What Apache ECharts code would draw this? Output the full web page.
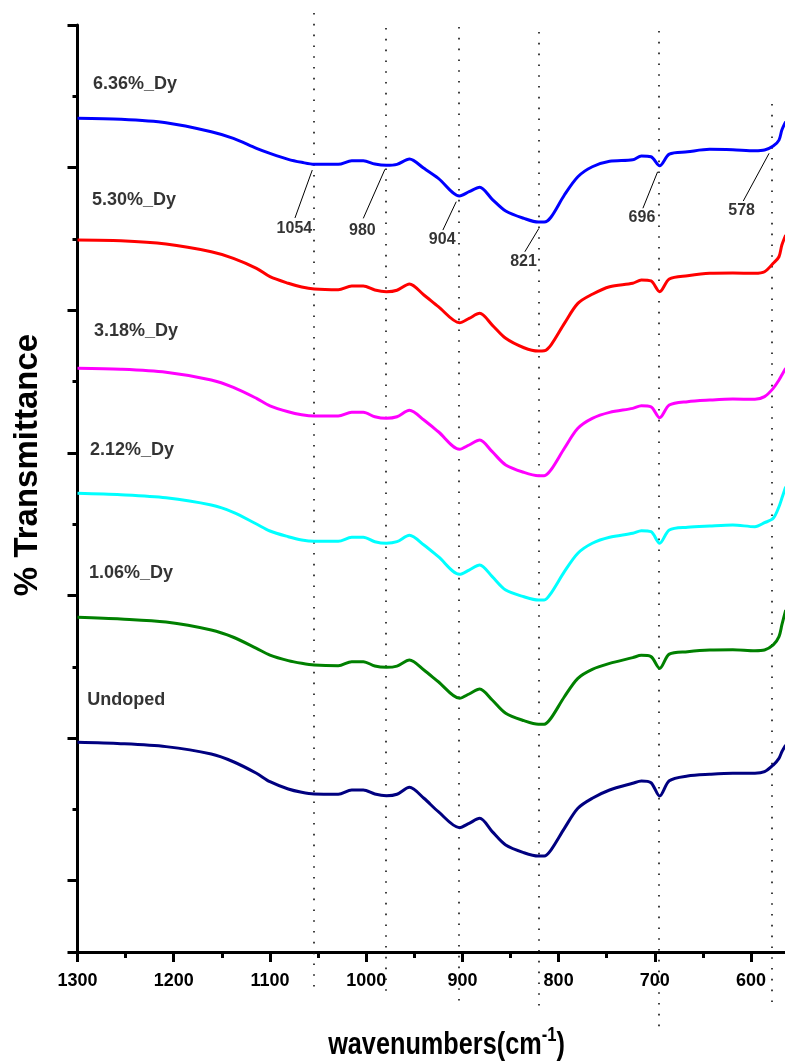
<!DOCTYPE html>
<html>
<head>
<meta charset="utf-8">
<script src="https://cdn.jsdelivr.net/npm/echarts@6/dist/echarts.min.js"></script>
<style>
  html, body { margin: 0; padding: 0; background: #ffffff; }
  #chart { width: 785px; height: 1061px; }
</style>
</head>
<body>
<div id="chart"></div>
<script>
// FTIR spectra of Dy-doped samples, stacked with vertical offsets.
const wavenumbers = [1300, 1255, 1208, 1161, 1138, 1114, 1100, 1081, 1067, 1054,
  1029, 1015, 1003, 991, 979, 968, 955, 940, 925, 903,
  893, 882, 869, 855, 836, 821, 815, 808, 794, 780,
  765, 747, 723, 714, 704, 695, 685, 666, 643, 619,
  596, 586, 577, 571, 568, 564];

const undoped = [14.70, 14.61, 14.40, 13.88, 13.34, 12.53, 11.94, 11.43, 11.20, 11.08,
  11.06, 11.36, 11.36, 11.08, 10.96, 11.06, 11.55, 10.78, 9.84, 8.72,
  9.02, 9.37, 8.44, 7.50, 6.96, 6.73, 6.73, 7.15, 8.67, 10.08,
  10.78, 11.36, 11.83, 11.99, 11.87, 10.94, 12.01, 12.34, 12.46, 12.53,
  12.53, 12.64, 13.11, 13.58, 14.04, 14.51];

const dy106 = [23.47, 23.35, 23.14, 22.58, 22.07, 21.29, 20.82, 20.43, 20.24, 20.12,
  20.07, 20.36, 20.36, 20.05, 19.96, 20.05, 20.47, 19.77, 18.95, 17.79,
  18.09, 18.44, 17.67, 16.74, 16.22, 15.97, 15.97, 16.39, 17.90, 19.19,
  19.82, 20.24, 20.64, 20.80, 20.71, 19.89, 20.89, 21.06, 21.18, 21.20,
  21.13, 21.18, 21.53, 22.11, 22.93, 23.98];

const dy212 = [32.16, 32.06, 31.85, 31.34, 30.83, 30.01, 29.52, 29.12, 28.89, 28.80,
  28.80, 29.08, 29.08, 28.77, 28.66, 28.77, 29.22, 28.54, 27.72, 26.48,
  26.78, 27.14, 26.32, 25.38, 24.91, 24.68, 24.68, 25.15, 26.67, 27.96,
  28.66, 29.08, 29.36, 29.54, 29.47, 28.66, 29.59, 29.78, 29.87, 29.94,
  29.82, 30.10, 30.41, 31.22, 31.81, 32.63];

const dy318 = [40.93, 40.86, 40.65, 40.11, 39.59, 38.82, 38.30, 37.88, 37.67, 37.58,
  37.58, 37.84, 37.84, 37.53, 37.42, 37.53, 37.98, 37.30, 36.48, 35.25,
  35.55, 35.90, 35.08, 34.15, 33.63, 33.40, 33.40, 33.80, 35.32, 36.72,
  37.42, 37.84, 38.12, 38.30, 38.23, 37.46, 38.35, 38.59, 38.70, 38.77,
  38.75, 38.94, 39.52, 40.11, 40.46, 40.93];

const dy530 = [49.92, 49.87, 49.64, 49.10, 48.64, 47.94, 47.35, 46.89, 46.63, 46.49,
  46.44, 46.70, 46.70, 46.42, 46.30, 46.40, 46.84, 46.07, 45.25, 44.12,
  44.43, 44.78, 43.96, 43.03, 42.37, 42.14, 42.16, 42.56, 44.08, 45.48,
  46.12, 46.65, 46.89, 47.12, 47.05, 46.30, 47.19, 47.42, 47.59, 47.61,
  47.59, 47.70, 48.29, 48.75, 49.57, 50.27];

const dy636 = [58.46, 58.39, 58.15, 57.52, 57.05, 56.35, 56.00, 55.58, 55.37, 55.23,
  55.23, 55.48, 55.48, 55.25, 55.16, 55.23, 55.60, 54.95, 54.25, 53.01,
  53.31, 53.62, 52.78, 51.96, 51.44, 51.18, 51.18, 51.52, 53.08, 54.36,
  55.06, 55.44, 55.55, 55.81, 55.76, 55.13, 55.95, 56.11, 56.28, 56.25,
  56.18, 56.23, 56.51, 56.93, 57.64, 58.22];

const seriesNames = ['Undoped', '1.06%_Dy', '2.12%_Dy', '3.18%_Dy', '5.30%_Dy', '6.36%_Dy'];
const seriesColors = ['#000080', '#008000', '#00ffff', '#ff00ff', '#ff0000', '#0000ff'];
const seriesValues = [undoped, dy106, dy212, dy318, dy530, dy636];
// anchor (left edge, vertical middle) of each sample name
const nameLabelPos = [[1290.3, 17.67], [1288.6, 26.57], [1287.5, 35.20], [1283.4, 43.54], [1285.4, 52.73], [1284.4, 60.86]];

// assigned bands, marked with dotted guides
const peakWavenumbers = [1054, 980, 904, 821, 696, 578];
const guideTop = [65.84, 64.79, 64.86, 64.51, 64.58, 59.46];
const guideBottom = [-2.66, -3.02, -3.72, -3.93, -5.33, -3.72];
// leader lines from the top spectrum to the band labels
const leaderStart = [[1056, 54.83], [980.5, 54.88], [906.4, 52.61], [820.5, 50.74], [697.1, 54.71], [581.3, 56.0]];
const leaderEnd = [[1074, 51.47], [1003, 51.44], [920.3, 50.62], [835.1, 49.10], [712.4, 52.15], [608.1, 52.66]];
const bandLabelPos = [[1074.6, 50.74], [1004, 50.55], [921, 49.92], [836.5, 48.40], [713.4, 51.51], [609.8, 51.98]];

const FONT = '"Liberation Sans", Arial, sans-serif';

const chart = echarts.init(document.getElementById('chart'), null, { renderer: 'canvas' });

const spectra = seriesValues.map((vals, k) => ({
  type: 'line',
  name: seriesNames[k],
  data: wavenumbers.map((w, i) => [w, vals[i]]),
  showSymbol: false,
  symbol: 'none',
  smooth: 0.3,
  lineStyle: { color: seriesColors[k], width: 3 },
  z: 3,
  silent: true
}));

const option = {
  animation: false,
  backgroundColor: '#ffffff',
  grid: { left: 77.5, top: 25, bottom: 109, right: -62.3, containLabel: false, outerBoundsMode: 'none' },
  // x-axis title, condensed bold face with a superscript exponent
  graphic: [{
    type: 'text',
    x: 446.5,
    y: 1043,
    scaleX: 0.79,
    silent: true,
    style: {
      text: '{t|wavenumbers(cm}{s|-1}{t|)}',
      align: 'center',
      verticalAlign: 'middle',
      rich: {
        t: { fontSize: 32, fontWeight: 'bold', fontFamily: FONT, fill: '#000', lineHeight: 37, verticalAlign: 'bottom' },
        s: { fontSize: 21, fontWeight: 'bold', fontFamily: FONT, fill: '#000', lineHeight: 20, verticalAlign: 'top' }
      }
    }
  }],
  xAxis: {
    type: 'value',
    min: 500,
    max: 1300,
    interval: 100,
    inverse: true,
    axisLine: { show: true, onZero: false, lineStyle: { color: '#000', width: 3 } },
    axisTick: { show: true, length: 10, lineStyle: { color: '#000', width: 3 } },
    minorTick: { show: true, splitNumber: 2, length: 6, lineStyle: { color: '#000', width: 3 } },
    splitLine: { show: false },
    minorSplitLine: { show: false },
    axisLabel: { fontSize: 18, fontWeight: 'bold', color: '#000', margin: 20, fontFamily: FONT, formatter: v => String(v) }
  },
  yAxis: [
    {
      type: 'value',
      min: 0,
      max: 65,
      interval: 5,
      position: 'left',
      axisLine: { show: true, onZero: false, lineStyle: { color: '#000', width: 3 } },
      axisTick: { show: true, length: 5, lineStyle: { color: '#000', width: 3 } },
      axisLabel: { show: false },
      splitLine: { show: false },
      name: '% Transmittance',
      nameLocation: 'middle',
      nameGap: 33,
      nameTextStyle: { fontSize: 33, fontWeight: 'bold', color: '#000', fontFamily: FONT, padding: [0, 0, 0, 47] }
    },
    {
      type: 'value',
      min: 0,
      max: 65,
      interval: 10,
      inverse: true,
      position: 'left',
      axisLine: { show: false, onZero: false },
      axisTick: { show: true, length: 10, lineStyle: { color: '#000', width: 3 } },
      axisLabel: { show: false },
      splitLine: { show: false }
    }
  ],
  series: [
    {
      type: 'lines',
      coordinateSystem: 'cartesian2d',
      xAxisIndex: 0,
      yAxisIndex: 0,
      clip: false,
      silent: true,
      z: 1,
      lineStyle: { color: '#111', width: 1.6, type: [1.6, 9.2], opacity: 1, cap: 'butt' },
      data: peakWavenumbers.map((w, i) => ({ coords: [[w, guideTop[i]], [w, guideBottom[i]]] }))
    },
    {
      type: 'lines',
      coordinateSystem: 'cartesian2d',
      xAxisIndex: 0,
      yAxisIndex: 0,
      clip: false,
      silent: true,
      z: 4,
      lineStyle: { color: '#000', width: 1, type: 'solid', opacity: 1 },
      data: leaderStart.map((p, i) => ({ coords: [p, leaderEnd[i]] }))
    },
    ...spectra,
    {
      type: 'scatter',
      symbolSize: 1,
      silent: true,
      z: 5,
      itemStyle: { color: 'rgba(0,0,0,0)' },
      label: { show: true, position: 'inside', fontSize: 16, fontWeight: 'bold', color: '#000', textBorderWidth: 0, fontFamily: FONT },
      data: bandLabelPos.map((p, i) => ({ value: p, label: { formatter: String(peakWavenumbers[i]) } }))
    },
    {
      type: 'scatter',
      symbolSize: 1,
      silent: true,
      z: 5,
      itemStyle: { color: 'rgba(0,0,0,0)' },
      label: { show: true, position: 'right', distance: 0, fontSize: 18, fontWeight: 'bold', color: '#000', textBorderWidth: 0, fontFamily: FONT },
      data: nameLabelPos.map((p, i) => ({ value: p, label: { formatter: seriesNames[i] } }))
    }
  ]
};

chart.setOption(option);
</script>
</body>
</html>
